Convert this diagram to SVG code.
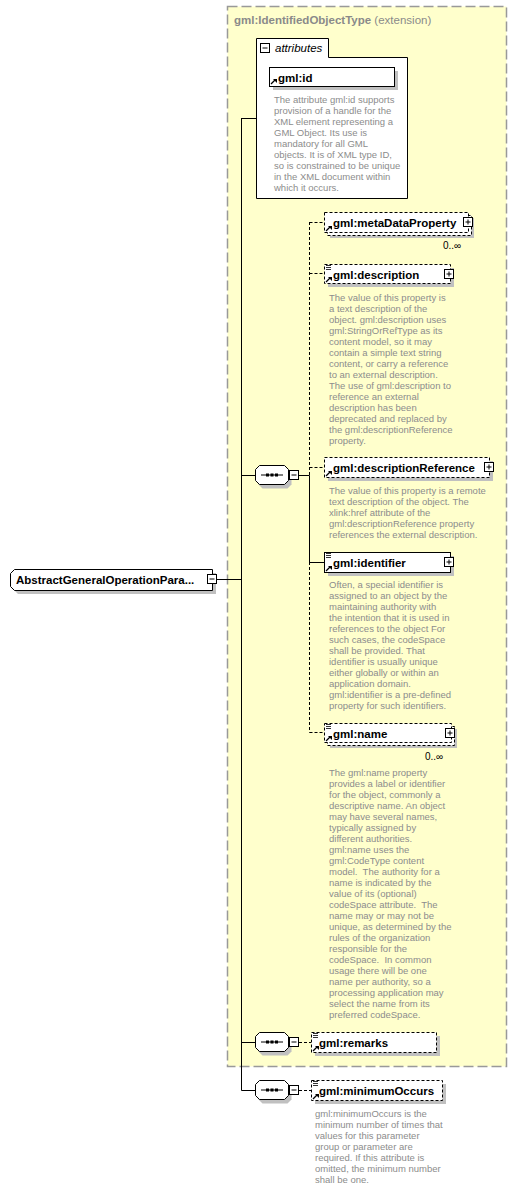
<svg xmlns="http://www.w3.org/2000/svg" width="517" height="1189" viewBox="0 0 517 1189">
<style>
text{font-family:"Liberation Sans",Arial,sans-serif}
.lbl{font-size:11.5px;font-weight:bold;fill:#000}
.desc{font-size:9.5px;fill:#8c8c8c}
.occ{font-size:10px;fill:#000}
.box{fill:#fff;stroke:#000;stroke-width:1}
.dbox{fill:#fff;stroke:#000;stroke-width:1;stroke-dasharray:3,2}
.shadow{fill:#c0c0c0}
.ln{fill:none;stroke:#000;stroke-width:1}
.dl{fill:none;stroke:#000;stroke-width:1;stroke-dasharray:3,2}
.icon{fill:#fff;stroke:#000;stroke-width:1}
</style>
<defs>
<g id="ref"><path d="M0,7 L4,3" stroke="#000" stroke-width="1.2"/><path d="M2,2 H6 V6 Z" fill="#000"/></g>
<g id="lines"><path d="M0,0.5 H5 M0,2.5 H5 M0,4.5 H5" stroke="#000" stroke-width="0.8"/></g>
<g id="plus"><rect x="0.5" y="0.5" width="9" height="9" class="icon"/><path d="M2.5,5 H7.5 M5,2.5 V7.5" stroke="#000"/></g>
<g id="minus"><rect x="0.5" y="0.5" width="9" height="9" class="icon"/><path d="M2.5,5 H7.5" stroke="#000"/></g>
<g id="seq"><path d="M4.5,0.5 H29.5 L33.5,4.5 V15.5 L29.5,19.5 H4.5 L0.5,15.5 V4.5 Z" fill="#fff" stroke="#000"/><path d="M6,10 H28" stroke="#000"/><rect x="11" y="8.5" width="3" height="3" fill="#000"/><rect x="15.5" y="8.5" width="3" height="3" fill="#000"/><rect x="20" y="8.5" width="3" height="3" fill="#000"/></g>
<path id="seqs" d="M4.5,0.5 H29.5 L33.5,4.5 V15.5 L29.5,19.5 H4.5 L0.5,15.5 V4.5 Z" fill="#c0c0c0"/>
</defs>

<g id="extension">
<rect x="227.5" y="6.5" width="279" height="1060" fill="#ffffcc" stroke="#999" stroke-width="1.5" stroke-dasharray="10,4"/>
<text x="234" y="23.5" style="font-size:11.5px;fill:#8a8a8a"><tspan font-weight="bold">gml:IdentifiedObjectType</tspan> (extension)</text>
</g>

<g id="connectors">
<path class="ln" d="M217,579.5 H241.5 M241.5,118 V1090.5 M241.5,118.5 H256 M241.5,475.5 H255 M241.5,1042.5 H255 M241.5,1090.5 H255"/>
<path class="ln" d="M299,475.5 H309.5 M309.5,475.5 V562 M309.5,562.5 H324"/>
<path class="dl" d="M309.5,222 V475 M309.5,562 V732.5 M309.5,222.5 H324 M309.5,273.5 H324 M309.5,467.5 H324 M309.5,732.5 H324"/>
<path class="dl" d="M299,1042.5 H311 M299,1090.5 H311"/>
</g>

<g id="main">
<path class="shadow" d="M18,573 H216 V594 H18 L14,590 V577 Z"/>
<path d="M14.5,569.5 H212.5 V590.5 H14.5 L10.5,586.5 V573.5 Z" fill="#fff" stroke="#000"/>
<text x="16" y="584" class="lbl">AbstractGeneralOperationPara...</text>
<use href="#minus" x="207" y="574"/>
</g>

<g id="attributes">
<path d="M256.5,198.5 V38.5 H328.5 V57.5 H407.5 V198.5 Z" fill="#fff" stroke="#000"/>
<use href="#minus" x="260" y="43"/>
<text x="275" y="52" style="font-size:11.5px;font-style:italic;fill:#000">attributes</text>
<rect x="273" y="71" width="125" height="19" class="shadow"/>
<rect x="269.5" y="67.5" width="125" height="19" class="box"/>
<use href="#ref" x="271" y="77"/>
<text x="278" y="81.5" class="lbl">gml:id</text>
<text class="desc" y="102.5"><tspan x="274">The attribute gml:id supports</tspan><tspan x="274" dy="11">provision of a handle for the</tspan><tspan x="274" dy="11">XML element representing a</tspan><tspan x="274" dy="11">GML Object. Its use is</tspan><tspan x="274" dy="11">mandatory for all GML</tspan><tspan x="274" dy="11">objects. It is of XML type ID,</tspan><tspan x="274" dy="11">so is constrained to be unique</tspan><tspan x="274" dy="11">in the XML document within</tspan><tspan x="274" dy="11">which it occurs.</tspan></text>
</g>

<g id="seq1">
<use href="#seqs" x="258" y="469"/>
<use href="#seq" x="255" y="465"/>
<use href="#minus" x="289" y="470"/>
</g>

<g id="metaDataProperty">
<rect x="330" y="218" width="144" height="20" class="shadow"/>
<rect x="327.5" y="215.5" width="144" height="20" class="dbox"/>
<rect x="324.5" y="212.5" width="144" height="20" class="dbox"/>
<use href="#ref" x="326" y="224"/>
<text x="333" y="227" class="lbl">gml:metaDataProperty</text>
<use href="#plus" x="463" y="217"/>
<text x="443" y="249" class="occ">0..∞</text>
</g>

<g id="description">
<rect x="328" y="268" width="126" height="19" class="shadow"/>
<rect x="324.5" y="264.5" width="126" height="19" class="dbox"/>
<use href="#lines" x="326" y="265"/>
<use href="#ref" x="326" y="275"/>
<text x="333" y="278.5" class="lbl">gml:description</text>
<use href="#plus" x="444" y="269"/>
<text class="desc" y="300.5"><tspan x="329">The value of this property is</tspan><tspan x="329" dy="11">a text description of the</tspan><tspan x="329" dy="11">object. gml:description uses</tspan><tspan x="329" dy="11">gml:StringOrRefType as its</tspan><tspan x="329" dy="11">content model, so it may</tspan><tspan x="329" dy="11">contain a simple text string</tspan><tspan x="329" dy="11">content, or carry a reference</tspan><tspan x="329" dy="11">to an external description.</tspan><tspan x="329" dy="11">The use of gml:description to</tspan><tspan x="329" dy="11">reference an external</tspan><tspan x="329" dy="11">description has been</tspan><tspan x="329" dy="11">deprecated and replaced by</tspan><tspan x="329" dy="11">the gml:descriptionReference</tspan><tspan x="329" dy="11">property.</tspan></text>
</g>

<g id="descriptionReference">
<rect x="328" y="461" width="165" height="20" class="shadow"/>
<rect x="324.5" y="457.5" width="165" height="20" class="dbox"/>
<use href="#ref" x="326" y="469"/>
<text x="333" y="472" class="lbl">gml:descriptionReference</text>
<use href="#plus" x="484" y="462"/>
<text class="desc" y="493.5"><tspan x="329">The value of this property is a remote</tspan><tspan x="329" dy="11">text description of the object. The</tspan><tspan x="329" dy="11">xlink:href attribute of the</tspan><tspan x="329" dy="11">gml:descriptionReference property</tspan><tspan x="329" dy="11">references the external description.</tspan></text>
</g>

<g id="identifier">
<rect x="328" y="556" width="126" height="20" class="shadow"/>
<rect x="324.5" y="552.5" width="126" height="20" class="box"/>
<use href="#lines" x="326" y="553"/>
<use href="#ref" x="326" y="564"/>
<text x="333" y="567" class="lbl">gml:identifier</text>
<use href="#plus" x="444" y="557"/>
<text class="desc" y="587.5"><tspan x="329">Often, a special identifier is</tspan><tspan x="329" dy="11">assigned to an object by the</tspan><tspan x="329" dy="11">maintaining authority with</tspan><tspan x="329" dy="11">the intention that it is used in</tspan><tspan x="329" dy="11">references to the object For</tspan><tspan x="329" dy="11">such cases, the codeSpace</tspan><tspan x="329" dy="11">shall be provided. That</tspan><tspan x="329" dy="11">identifier is usually unique</tspan><tspan x="329" dy="11">either globally or within an</tspan><tspan x="329" dy="11">application domain.</tspan><tspan x="329" dy="11">gml:identifier is a pre-defined</tspan><tspan x="329" dy="11">property for such identifiers.</tspan></text>
</g>

<g id="name">
<rect x="330" y="729" width="127" height="19" class="shadow"/>
<rect x="327.5" y="726.5" width="127" height="19" class="dbox"/>
<rect x="324.5" y="723.5" width="127" height="19" class="dbox"/>
<use href="#lines" x="326" y="724"/>
<use href="#ref" x="326" y="734"/>
<text x="333" y="737.5" class="lbl">gml:name</text>
<use href="#plus" x="445" y="728"/>
<text x="425" y="759.5" class="occ">0..∞</text>
<text class="desc" y="775.5"><tspan x="329">The gml:name property</tspan><tspan x="329" dy="11">provides a label or identifier</tspan><tspan x="329" dy="11">for the object, commonly a</tspan><tspan x="329" dy="11">descriptive name. An object</tspan><tspan x="329" dy="11">may have several names,</tspan><tspan x="329" dy="11">typically assigned by</tspan><tspan x="329" dy="11">different authorities.</tspan><tspan x="329" dy="11">gml:name uses the</tspan><tspan x="329" dy="11">gml:CodeType content</tspan><tspan x="329" dy="11" xml:space="preserve">model.  The authority for a</tspan><tspan x="329" dy="11">name is indicated by the</tspan><tspan x="329" dy="11">value of its (optional)</tspan><tspan x="329" dy="11" xml:space="preserve">codeSpace attribute.  The</tspan><tspan x="329" dy="11">name may or may not be</tspan><tspan x="329" dy="11">unique, as determined by the</tspan><tspan x="329" dy="11">rules of the organization</tspan><tspan x="329" dy="11">responsible for the</tspan><tspan x="329" dy="11" xml:space="preserve">codeSpace.  In common</tspan><tspan x="329" dy="11">usage there will be one</tspan><tspan x="329" dy="11">name per authority, so a</tspan><tspan x="329" dy="11">processing application may</tspan><tspan x="329" dy="11">select the name from its</tspan><tspan x="329" dy="11">preferred codeSpace.</tspan></text>
</g>

<g id="seq2">
<use href="#seqs" x="258" y="1036"/>
<use href="#seq" x="255" y="1032"/>
<use href="#minus" x="289" y="1037"/>
</g>

<g id="remarks">
<rect x="315" y="1036" width="125" height="20" class="shadow"/>
<rect x="311.5" y="1032.5" width="125" height="20" class="dbox"/>
<use href="#lines" x="313" y="1033"/>
<use href="#ref" x="313" y="1044"/>
<text x="319" y="1047" class="lbl">gml:remarks</text>
</g>

<g id="seq3">
<use href="#seqs" x="258" y="1084"/>
<use href="#seq" x="255" y="1080"/>
<use href="#minus" x="289" y="1085"/>
</g>

<g id="minimumOccurs">
<rect x="315" y="1084" width="131" height="20" class="shadow"/>
<rect x="311.5" y="1080.5" width="131" height="20" class="dbox"/>
<use href="#lines" x="313" y="1081"/>
<use href="#ref" x="313" y="1092"/>
<text x="319" y="1095" class="lbl">gml:minimumOccurs</text>
<text class="desc" y="1116.5"><tspan x="315">gml:minimumOccurs is the</tspan><tspan x="315" dy="11">minimum number of times that</tspan><tspan x="315" dy="11">values for this parameter</tspan><tspan x="315" dy="11">group or parameter are</tspan><tspan x="315" dy="11">required. If this attribute is</tspan><tspan x="315" dy="11">omitted, the minimum number</tspan><tspan x="315" dy="11">shall be one.</tspan></text>
</g>
</svg>
